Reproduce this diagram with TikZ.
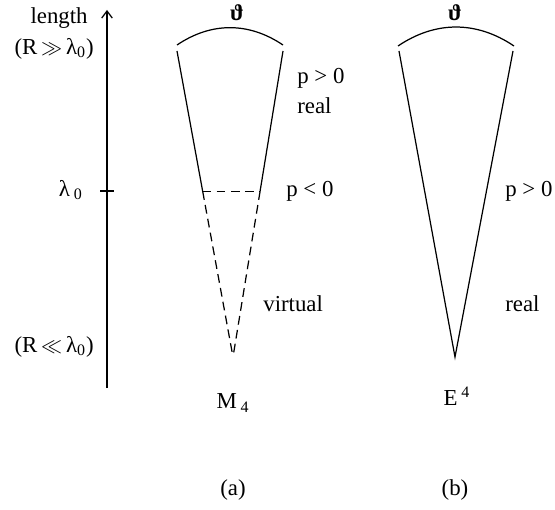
\documentclass[tikz,border=0pt]{standalone}
\usepackage{bm}
\usepackage{fontspec}
\setmainfont{Liberation Serif}
\usetikzlibrary{arrows.meta,positioning,calc}
\tikzset{
  >={Straight Barb[length=4pt,width=6pt]},
  lbl/.style={inner sep=0pt, font=\fontsize{13}{15}\selectfont},
  cone/.style={line width=0.7pt},
  virt/.style={cone, dash pattern=on 5pt off 3pt},
}
\newcommand{\angl}{\textbf{ϑ}}
\AtBeginDocument{\fontsize{13}{15}\selectfont}

\begin{document}
\begin{tikzpicture}[
x=0.02cm, y=-0.02cm
]
\useasboundingbox (0,0) rectangle (555,510);

% length axis
\coordinate (ybot) at (107,388);
\coordinate (ytop) at (107,10);
\coordinate (tick) at (107,191);
\draw[cone,->] (ybot) -- (ytop);
\draw[cone] (tick) ++(-7,0) -- ++(14,0);
\node[lbl,anchor=east] (len) at (88,18) {length};
\node[lbl,anchor=east] (big) at (94,49) {(R\,$\gg$\,λ\textsubscript{0})};
\node[lbl,anchor=east] (lam) at (83,190) {λ\,\textsubscript{0}};
\node[lbl,anchor=east] (small) at (94,347) {(R\,$\ll$\,λ\textsubscript{0})};

% cone (a)
\coordinate (aTL) at (177,51);
\coordinate (aTR) at (283,51);
\coordinate (aO) at (233,357);
\coordinate (aL) at ($(aTL)!0.458!(aO)$);
\coordinate (aR) at ($(aTR)!0.458!(aO)$);
\coordinate (aAL) at (177,45);
\coordinate (aAR) at (283,45);
\draw[cone] (aAL) to[bend left=34] (aAR);
\draw[cone] (aTL) -- (aL);
\draw[cone] (aTR) -- (aR);
\draw[virt] (aL) -- (aR);
\draw[virt] (aL) -- (aO);
\draw[virt] (aR) -- (aO);
\node[lbl] (tha) at (237,13) {\angl};
\node[lbl,anchor=west] (pa) at (297,78) {p \textgreater{} 0};
\node[lbl,below=5pt of pa.south west,anchor=north west] (ra) {real};
\node[lbl,anchor=west] (na) at (286,191) {p \textless{} 0};
\node[lbl,anchor=west] (va) at (263,304) {virtual};
\node[lbl] (ma) at (233,403) {M\,\textsubscript{4}};
\node[lbl] (capa) at (233,490) {(a)};

% cone (b)
\coordinate (bTL) at (399,51);
\coordinate (bTR) at (513,51);
\coordinate (bO) at (455,357);
\coordinate (bAL) at (398,46);
\coordinate (bAR) at (514,46);
\draw[cone] (bAL) to[bend left=34] (bAR);
\draw[cone] (bTL) -- (bO) -- (bTR);
\node[lbl] (thb) at (455,13) {\angl};
\node[lbl,anchor=west] (pb) at (505,191) {p \textgreater{} 0};
\node[lbl,anchor=west] (rb) at (505,304) {real};
\node[lbl] (eb) at (457,396) {E\,\textsuperscript{4}};
\node[lbl] (capb) at (455,490) {(b)};
\end{tikzpicture}
\end{document}
